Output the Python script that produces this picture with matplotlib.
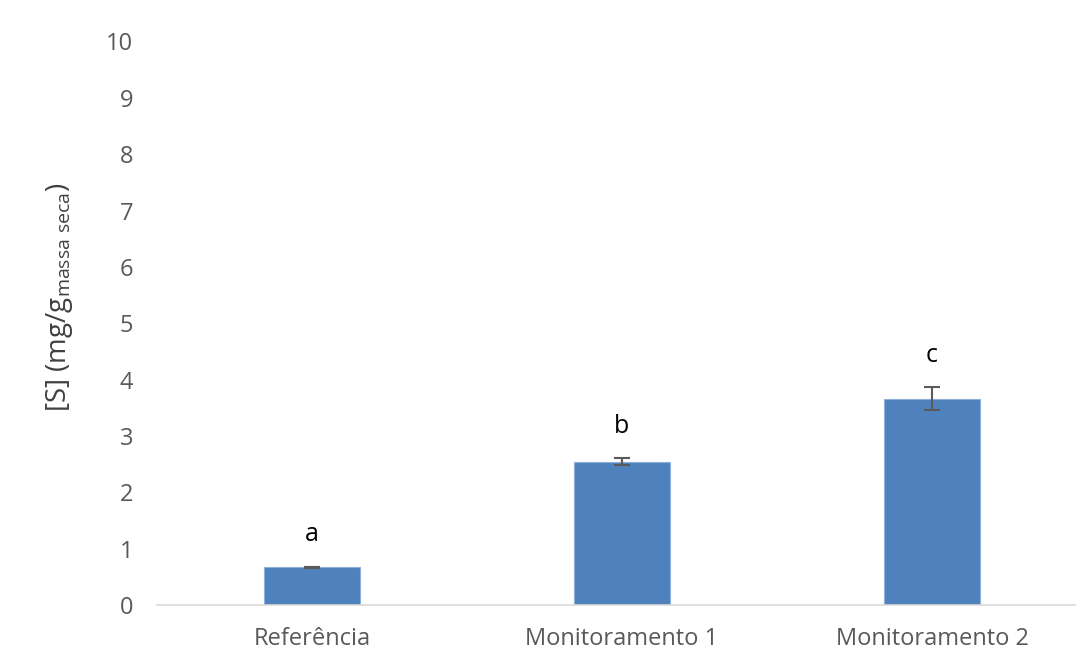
import numpy as np
import matplotlib
matplotlib.use("Agg")
import matplotlib.pyplot as plt

plt.rcParams['font.family'] = ['Open Sans', 'DejaVu Sans']

categorias = ['Referência', 'Monitoramento 1', 'Monitoramento 2']
enxofre = [0.67, 2.54, 3.66]
desvio = [0.01, 0.06, 0.2]
letras = ['a', 'b', 'c']

fig = plt.figure(figsize=(10.76, 6.69), dpi=100)
# eixo um pouco mais largo que a figura, o lado direito fica cortado
ax = fig.add_axes([157 / 1076, 64 / 669, 930 / 1076, 563.5 / 669])

x = np.arange(len(categorias))
ax.bar(x, enxofre, width=0.31, color='#4F81BD', edgecolor='#8EB0DC', linewidth=0.8,
       yerr=desvio, error_kw=dict(ecolor='#5a5a5a', elinewidth=1.5, capsize=6, capthick=1.5))

for i in range(len(categorias)):
    ax.annotate(letras[i], (x[i], enxofre[i] + desvio[i]), xytext=(0, 23),
                textcoords='offset points', ha='center', va='center', fontsize=18, color='black')

ax.set_xlim(-0.5, 2.5)
ax.set_ylim(0, 10)
ax.set_yticks(range(0, 11))
ax.set_xticks(x)
ax.set_xticklabels(categorias)

for s in ['top', 'right', 'left']:
    ax.spines[s].set_visible(False)
ax.spines['bottom'].set_color('#d9d9d9')
ax.spines['bottom'].set_linewidth(1.2)
ax.tick_params(axis='both', length=0, labelsize=17, colors='#595959')
ax.tick_params(axis='y', pad=17)
ax.tick_params(axis='x', pad=16)

ax.set_ylabel('[S] (mg/g$_{\\mathregular{massa\\ seca}}$)', fontsize=20, color='#404040')
ax.yaxis.set_label_coords(-0.088, 0.547)

fig.savefig('out.png', dpi=100)
